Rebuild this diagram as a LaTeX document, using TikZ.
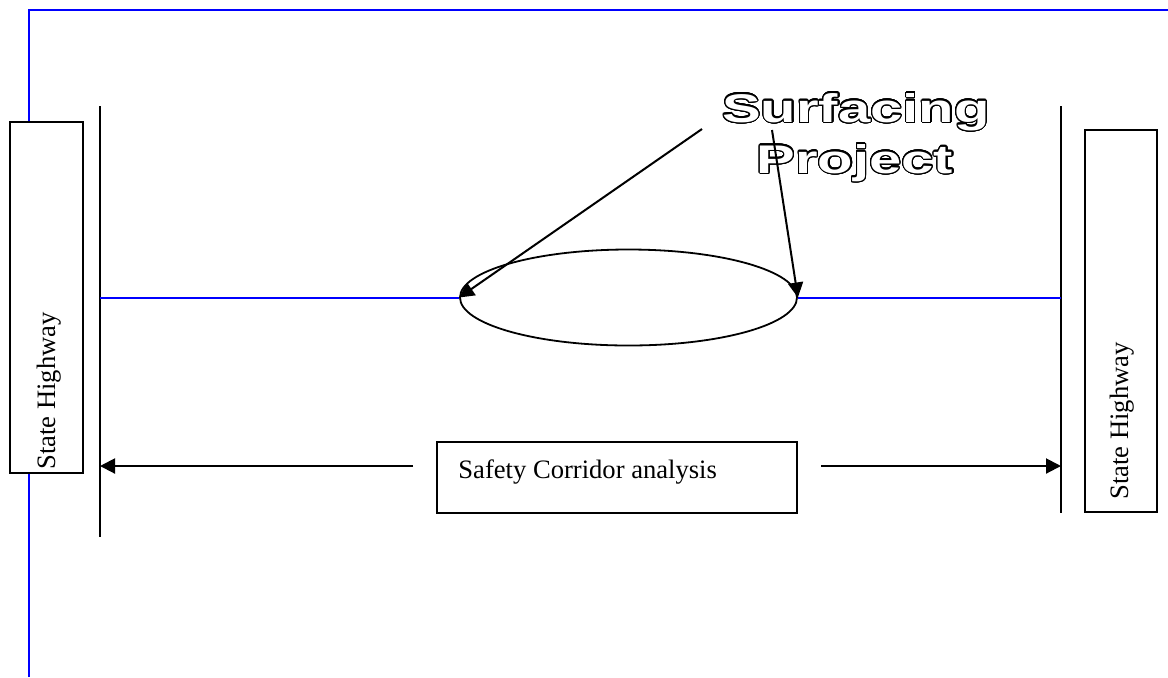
\documentclass[tikz,border=0pt]{standalone}
\usepackage{fontspec}
\usepackage{contour}
\contourlength{0.6pt}
\contournumber{32}
\setmainfont{Liberation Serif}
\newfontfamily\widebold{Liberation Sans Bold}[FakeStretch=1.45]
\usetikzlibrary{shapes.geometric,arrows.meta}

\tikzset{
  frame/.style={blue, line width=1pt},
  road/.style={blue, line width=1pt},
  limit/.style={black, line width=1pt},
  hwybox/.style={draw, fill=white, line width=1pt, inner sep=0pt},
  hwytext/.style={rotate=90, inner sep=0pt, font=\fontsize{13.3}{16}\selectfont},
  pointer/.style={line width=1pt, -{Triangle[length=7.5pt,width=7.5pt]}},
  title/.style={inner sep=0pt, font=\fontsize{20}{24}\selectfont\widebold},
}
\newcommand{\hollow}[1]{\contour{black}{\textcolor{white}{#1}}}

\begin{document}
\begin{tikzpicture}[x=0.5pt, y=-0.5pt]
  \useasboundingbox (0,0) rectangle (1168,677);

  % page frame
  \draw[frame] (29,677) -- (29,10) -- (1168,10);

  % corridor limits
  \coordinate (ltop) at (100,106);
  \coordinate (lbot) at (100,537);
  \coordinate (rtop) at (1061,106);
  \coordinate (rbot) at (1061,513);
  \draw[limit] (ltop) -- (lbot);
  \draw[limit] (rtop) -- (rbot);

  % state highway boxes
  \node[hwybox, minimum width=36.5pt, minimum height=175.5pt] (lbox) at (46.5,297.5) {};
  \node[hwytext, anchor=base west] (ltext) at (55,470) {State Highway};
  \node[hwybox, minimum width=36pt, minimum height=191pt] (rbox) at (1121,321) {};
  \node[hwytext, anchor=base west] (rtext) at (1128,500) {State Highway};

  % surfacing project section
  \node[draw, ellipse, line width=0.9pt, inner sep=0pt,
        minimum width=168.5pt, minimum height=48pt] (ell) at (628.5,297.5) {};
  \coordinate (rl) at (100,297.5);
  \coordinate (rr) at (1061,297.5);
  \draw[road] (rl) -- (ell.west);
  \draw[road] (ell.east) -- (rr);

  % title
  \node[title, anchor=base] (t1) at (856,122) {\hollow{Surfacing}};
  \node[title, anchor=base] (t2) at (855,173) {\hollow{Project}};
  \coordinate (p1) at (702,129);
  \coordinate (p2) at (772,130);
  \draw[pointer] (p1) -- (ell.west);
  \draw[pointer] (p2) -- (ell.east);

  % analysis extent
  \node[draw, line width=1pt, inner sep=0pt, minimum width=180pt, minimum height=35.5pt] (sbox) at (617,477.5) {};
  \node[anchor=base west, inner sep=0pt, font=\fontsize{13.3}{16}\selectfont] (stext) at (458,478) {Safety Corridor analysis};
  \coordinate (al) at (413,466);
  \coordinate (ar) at (821,466);
  \coordinate (alend) at (100,466);
  \coordinate (arend) at (1061,466);
  \draw[pointer] (al) -- (alend);
  \draw[pointer] (ar) -- (arend);
\end{tikzpicture}
\end{document}
